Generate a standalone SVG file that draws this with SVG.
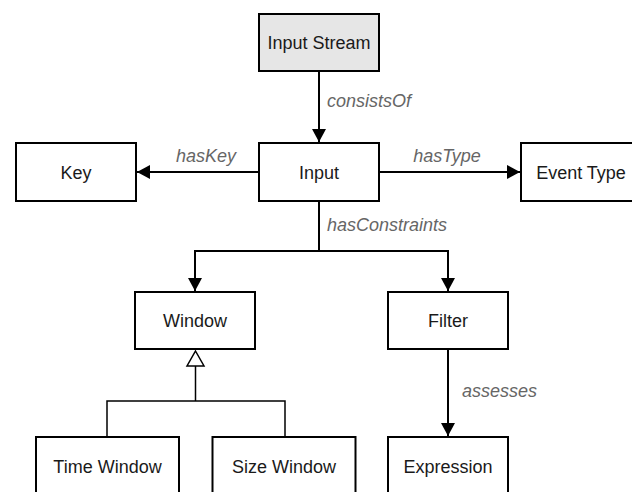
<svg xmlns="http://www.w3.org/2000/svg" width="632" height="492" viewBox="0 0 632 492">
<style>
.box{fill:#ffffff;stroke:#000000;stroke-width:2}
.src{fill:#e6e6e6;stroke:#000000;stroke-width:2}
.t{font-family:"Liberation Sans",Arial,sans-serif;font-size:18px;fill:#1a1a1a;text-anchor:middle}
.lbl{font-family:"Liberation Sans",Arial,sans-serif;font-size:18px;font-style:italic;fill:#666666}
.edge{fill:none;stroke:#000000;stroke-width:2}
.gen{fill:none;stroke:#000000;stroke-width:1.5}
</style>
<defs>
<marker id="arr" markerWidth="14" markerHeight="14" viewBox="0 0 14 14" refX="13" refY="7" orient="auto" markerUnits="userSpaceOnUse">
<path d="M0,0 L13,7 L0,14 Z" fill="#000000"/>
</marker>
</defs>
<g id="connectors">
<line class="edge" x1="319" y1="72" x2="319" y2="142" marker-end="url(#arr)"/>
<line class="edge" x1="258" y1="172" x2="137" y2="172" marker-end="url(#arr)"/>
<line class="edge" x1="380" y1="172" x2="520" y2="172" marker-end="url(#arr)"/>
<polyline class="edge" points="319,202 319,251 195,251 195,291" marker-end="url(#arr)"/>
<polyline class="edge" points="319,251 448,251 448,291" marker-end="url(#arr)"/>
<line class="edge" x1="448" y1="350" x2="448" y2="436" marker-end="url(#arr)"/>
<polyline class="gen" points="107,436 107,401 285,401 285,436"/>
<line class="gen" x1="195.5" y1="401" x2="195.5" y2="366"/>
<path d="M195.5,351 L204,366 L187,366 Z" fill="#ffffff" stroke="#000000" stroke-width="1.5"/>
<text class="lbl" x="327" y="107">consistsOf</text>
<text class="lbl" x="206" y="162" text-anchor="middle">hasKey</text>
<text class="lbl" x="447" y="162" text-anchor="middle">hasType</text>
<text class="lbl" x="327" y="231">hasConstraints</text>
<text class="lbl" x="462" y="397">assesses</text>
</g>
<g id="input-stream">
<rect class="src" x="259" y="14" width="120" height="57"/>
<text class="t" x="319" y="49">Input Stream</text>
</g>
<g id="key">
<rect class="box" x="16" y="143" width="120" height="58"/>
<text class="t" x="76" y="179">Key</text>
</g>
<g id="input">
<rect class="box" x="259" y="143" width="120" height="58"/>
<text class="t" x="319" y="179">Input</text>
</g>
<g id="event-type">
<rect class="box" x="521" y="143" width="120" height="58"/>
<text class="t" x="581" y="179">Event Type</text>
</g>
<g id="window">
<rect class="box" x="135" y="292" width="120" height="57"/>
<text class="t" x="195" y="327">Window</text>
</g>
<g id="filter">
<rect class="box" x="388" y="292" width="120" height="57"/>
<text class="t" x="448" y="327">Filter</text>
</g>
<g id="time-window">
<rect class="box" x="36" y="437" width="143" height="60"/>
<text class="t" x="107.5" y="473">Time Window</text>
</g>
<g id="size-window">
<rect class="box" x="212.5" y="437" width="143" height="60"/>
<text class="t" x="284" y="473">Size Window</text>
</g>
<g id="expression">
<rect class="box" x="388" y="437" width="120" height="60"/>
<text class="t" x="448" y="473">Expression</text>
</g>
</svg>
